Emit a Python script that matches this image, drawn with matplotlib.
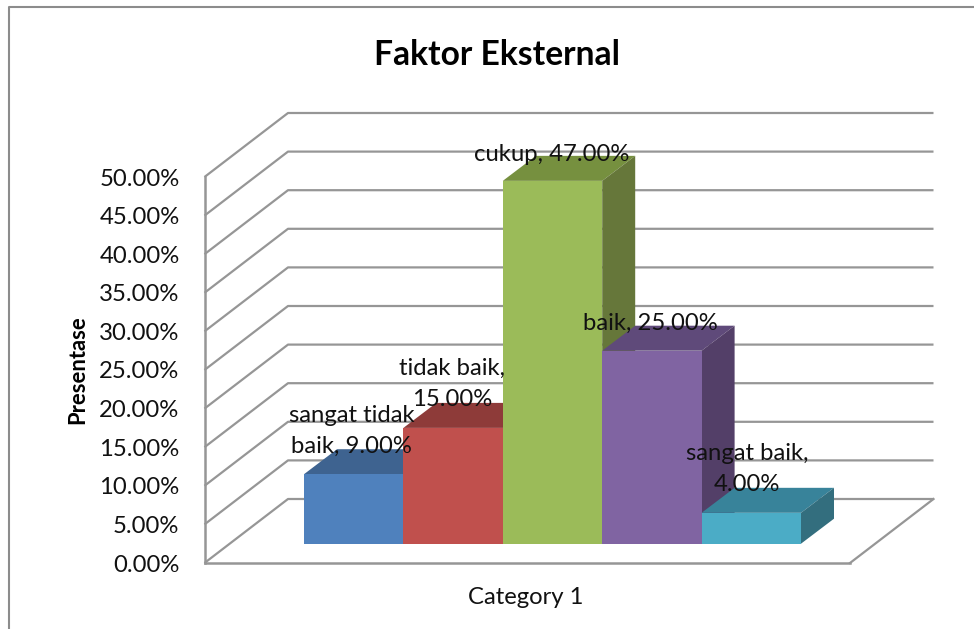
import matplotlib
matplotlib.use("Agg")
import matplotlib.pyplot as plt
from matplotlib.patches import Polygon, Rectangle
from matplotlib.lines import Line2D

plt.rcParams['font.family'] = ['Lato', 'DejaVu Sans']

categories = ['sangat tidak baik', 'tidak baik', 'cukup', 'baik', 'sangat baik']
values = [9, 15, 47, 25, 4]
y_ticks = [0, 5, 10, 15, 20, 25, 30, 35, 40, 45, 50]
y_labels = ['%.2f%%' % v for v in y_ticks]

front_cols = ['#4F81BD', '#C0504D', '#9BBB59', '#8064A2', '#4BACC6']
top_cols = ['#3E6390', '#8E3B39', '#76903F', '#5F4A7A', '#38839A']
side_cols = ['#355577', '#7A3230', '#66773A', '#533F68', '#336E7E']
grid_col = '#969696'

W, H = 974, 629
fig = plt.figure(figsize=(W / 100, H / 100), dpi=100)
ax = fig.add_axes([204.5 / W, 1 - 563 / H, 645.5 / W, 386 / H])

# one bar is 99.4 px wide, 1% is 7.72 px
xl, xr = (204.5 - 304) / 99.4, (850 - 304) / 99.4
ax.set_xlim(xl, xr)
ax.set_ylim(0, 50)
wall_dx, wall_dy = 83.5 / 99.4, 64 / 7.72
bar_dx, bar_dy = 33 / 99.4, 25 / 7.72
base = 19.3 / 7.72

for v in y_ticks:
    ax.add_line(Line2D([xl, xl + wall_dx, xr + wall_dx], [v, v + wall_dy, v + wall_dy],
                       color=grid_col, lw=1.6, clip_on=False, zorder=1, solid_capstyle='butt'))
ax.add_line(Line2D([xr, xr + wall_dx], [0, wall_dy], color=grid_col, lw=1.6, clip_on=False, zorder=1))

for i, v in enumerate(values):
    top = base + v
    ax.add_patch(Polygon([[i, top], [i + bar_dx, top + bar_dy], [i + 1 + bar_dx, top + bar_dy], [i + 1, top]],
                         fc=top_cols[i], ec='none', clip_on=False, zorder=2 + i))
    ax.add_patch(Polygon([[i + 1, base], [i + 1 + bar_dx, base + bar_dy], [i + 1 + bar_dx, top + bar_dy], [i + 1, top]],
                         fc=side_cols[i], ec='none', clip_on=False, zorder=2 + i))
    ax.add_patch(Rectangle((i, base), 1, v, fc=front_cols[i], ec='none', clip_on=False, zorder=2 + i))

label_pos = [(0.48, 17.1), (1.49, 23.2), (2.49, 52.9), (3.48, 31.1), (4.46, 12.2)]
label_txt = ['sangat tidak\nbaik, 9.00%', 'tidak baik,\n15.00%', 'cukup, 47.00%', 'baik, 25.00%', 'sangat baik,\n4.00%']
for (x, y), t in zip(label_pos, label_txt):
    ax.text(x, y, t, ha='center', va='center', fontsize=17.2, color='#111111',
            linespacing=1.6, zorder=10, clip_on=False)

for s in ['top', 'right']:
    ax.spines[s].set_visible(False)
for s in ['left', 'bottom']:
    ax.spines[s].set_color(grid_col)
    ax.spines[s].set_linewidth(1.8)
ax.patch.set_alpha(0)
ax.set_yticks(y_ticks)
ax.set_yticklabels(y_labels, fontsize=17.2, color='#111111')
ax.set_xticks([(xl + xr) / 2 - 0.02])
ax.set_xticklabels(['Category 1'], fontsize=17.2, color='#111111')
ax.tick_params(length=0)
ax.tick_params(axis='y', pad=18)
ax.tick_params(axis='x', pad=17)
ax.set_ylabel('Presentase', fontsize=15.8, fontweight='bold', labelpad=7.5)

fig.text(497 / W, 1 - 55 / H, 'Faktor Eksternal', ha='center', va='center', fontsize=24.2, fontweight='bold')
fig.add_artist(Line2D([9 / W, 9 / W, 973 / W], [0, 1 - 7 / H, 1 - 7 / H], color='#8c8c8c', lw=1.5))

fig.savefig('out.png', dpi=100)
